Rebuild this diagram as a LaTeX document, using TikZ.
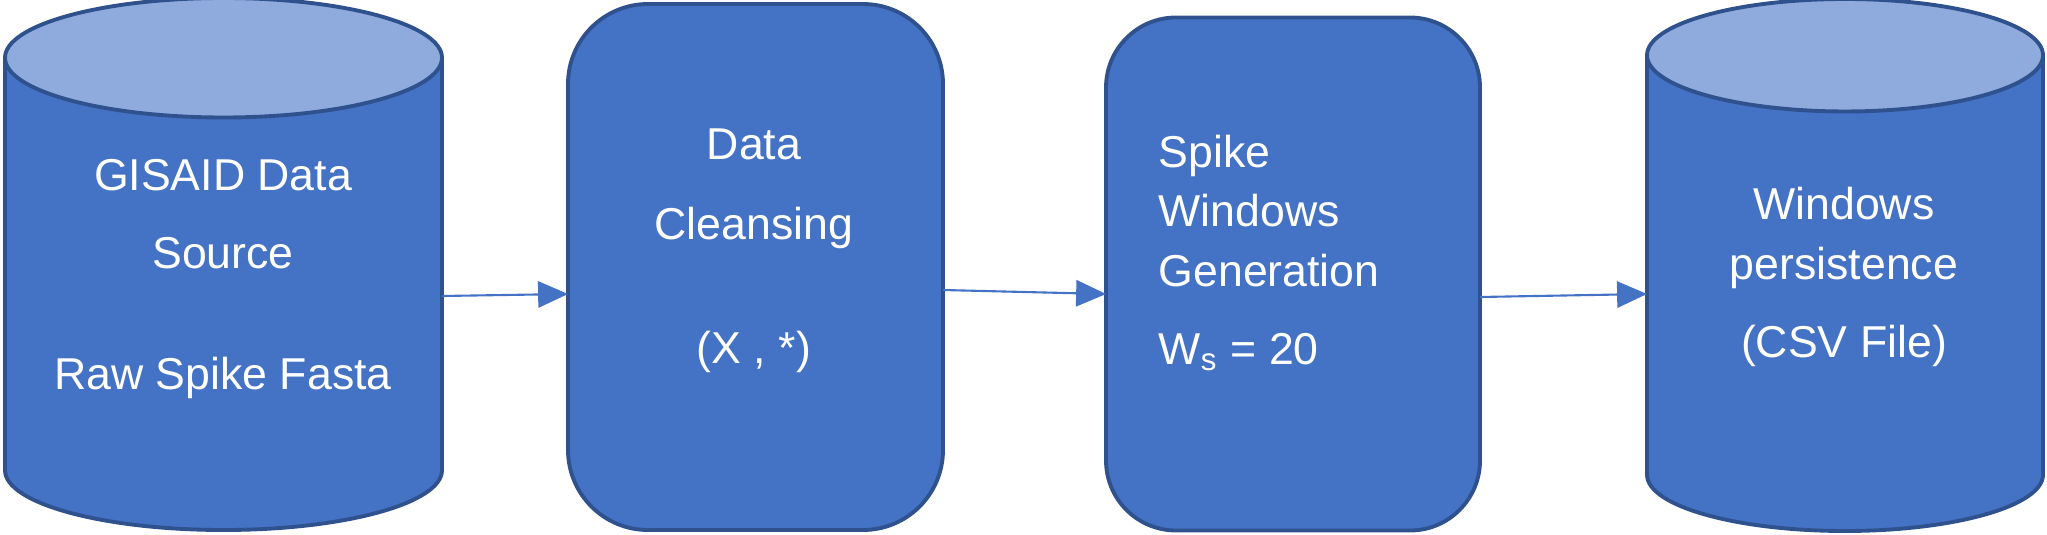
\documentclass[tikz,border=0pt]{standalone}
\usepackage{fontspec}
\setmainfont{Liberation Sans}
\usetikzlibrary{arrows.meta, calc, shapes.geometric}
\definecolor{boxfill}{HTML}{4472C4}
\definecolor{boxline}{HTML}{2F528F}
\definecolor{lidfill}{HTML}{8FAADC}

\begin{document}
\begin{tikzpicture}[
  store/.style={cylinder, shape border rotate=90, aspect=1.7, inner sep=10pt,
                draw=boxline, line width=1.1pt, cylinder uses custom fill,
                cylinder body fill=boxfill, cylinder end fill=lidfill,
                outer sep=0pt, anchor=bottom},
  stage/.style={draw=boxline, fill=boxfill, line width=1.1pt,
                rounded corners=0.8cm, outer sep=0pt},
  lbl/.style={text=white, font=\fontsize{12.7}{17}\selectfont, align=center, inner sep=0pt},
  arr/.style={-{Triangle[length=8.5pt, width=7.5pt]}, draw=boxfill, line width=0.6pt}
]
  \useasboundingbox (0,0) rectangle (20.47,-5.34);

  % Source data
  \node[store, minimum width=4.37cm, minimum height=5.32cm] (src) at (2.235,-5.30) {};

  % Processing stages
  \node[stage, minimum width=3.75cm, minimum height=5.26cm] (clean) at (7.555,-2.67) {};
  \node[stage, minimum width=3.74cm, minimum height=5.13cm,
        rounded corners=0.7cm] (gen) at (12.93,-2.74) {};

  % Output store
  \node[store, aspect=1.6, minimum width=3.96cm, minimum height=5.32cm] (sink) at (18.45,-5.31) {};

  % Labels
  \node[lbl, anchor=base] (srctxt) at (2.23,-3.89)
    {GISAID Data\\[5pt] Source\\[17.4pt] Raw Spike Fasta};
  \node[lbl, anchor=base] (cleantxt) at (7.54,-3.63)
    {Data\\[6pt] Cleansing\\[18pt] (X , *)};
  \node[lbl, anchor=base west, align=left] (gentxt) at (11.58,-3.64)
    {Spike\\ Windows\\ Generation\\[5pt] W\textsubscript{s} = 20};
  \node[lbl, anchor=base] (sinktxt) at (18.44,-3.57)
    {Windows\\ persistence\\[5pt] (CSV File)};

  % Arrows, slightly tilted as drawn
  \draw[arr] ($(src.east |- clean.west)+(0,-0.29)$) -- ([yshift=-0.27cm]clean.west);
  \draw[arr] ([yshift=-0.23cm]clean.east) -- ([yshift=-0.20cm]gen.west);
  \draw[arr] ([yshift=-0.23cm]gen.east) -- ($(sink.west |- gen.west)+(0,-0.20)$);
\end{tikzpicture}
\end{document}
